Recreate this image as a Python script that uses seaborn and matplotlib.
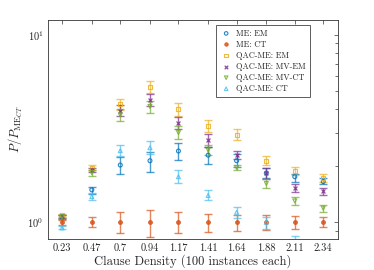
import numpy as np
import pandas as pd
import matplotlib
matplotlib.use("Agg")
import matplotlib.pyplot as plt
import seaborn as sns

# Data
densities = [0.23, 0.47, 0.70, 0.94, 1.17, 1.41, 1.64, 1.88, 2.11, 2.34]
tick_labels = ["0.23", "0.47", "0.7", "0.94", "1.17", "1.41", "1.64", "1.88", "2.11", "2.34"]

series_names = ["ME: EM", "ME: CT", "QAC-ME: EM", "QAC-ME: MV-EM", "QAC-ME: MV-CT", "QAC-ME: CT"]

me_em = [1.07, 1.49, 2.02, 2.13, 2.40, 2.28, 2.13, 1.83, 1.75, 1.65]
me_em_lo = [1.04, 1.42, 1.81, 1.86, 2.14, 2.05, 1.98, 1.72, 1.65, 1.60]
me_em_hi = [1.10, 1.55, 2.22, 2.36, 2.64, 2.53, 2.30, 1.95, 1.82, 1.72]

me_ct = [1.0, 1.0, 1.0, 1.0, 1.0, 1.0, 1.0, 1.0, 1.0, 1.0]
me_ct_lo = [0.97, 0.94, 0.874, 0.83, 0.877, 0.89, 0.90, 0.91, 0.92, 0.94]
me_ct_hi = [1.03, 1.063, 1.13, 1.17, 1.13, 1.11, 1.10, 1.09, 1.08, 1.063]

qac_em = [1.09, 1.96, 4.26, 5.26, 4.01, 3.27, 2.93, 2.13, 1.88, 1.72]
qac_em_lo = [1.07, 1.91, 3.99, 4.87, 3.69, 3.02, 2.74, 2.01, 1.79, 1.65]
qac_em_hi = [1.11, 2.01, 4.53, 5.67, 4.32, 3.52, 3.14, 2.25, 1.98, 1.80]

qac_mvem = [1.08, 1.90, 3.93, 4.50, 3.38, 2.75, 2.29, 1.83, 1.52, 1.46]
qac_mvem_lo = [1.06, 1.85, 3.69, 4.17, 3.13, 2.53, 2.17, 1.71, 1.45, 1.39]
qac_mvem_hi = [1.10, 1.95, 4.21, 4.86, 3.64, 2.96, 2.41, 1.96, 1.60, 1.53]

qac_mvct = [1.07, 1.84, 3.74, 4.15, 3.01, 2.43, 1.96, 1.61, 1.30, 1.19]
qac_mvct_lo = [1.05, 1.77, 3.48, 3.83, 2.77, 2.29, 1.89, 1.53, 1.24, 1.14]
qac_mvct_hi = [1.09, 1.90, 4.01, 4.46, 3.27, 2.58, 2.03, 1.70, 1.36, 1.24]

qac_ct = [0.933, 1.37, 2.41, 2.50, 1.75, 1.39, 1.13, 1.00, 0.79, 0.70]
qac_ct_lo = [0.92, 1.31, 2.26, 2.30, 1.62, 1.31, 1.06, 0.92, 0.74, 0.65]
qac_ct_hi = [0.95, 1.43, 2.59, 2.72, 1.89, 1.48, 1.21, 1.07, 0.84, 0.75]

values = [me_em, me_ct, qac_em, qac_mvem, qac_mvct, qac_ct]
lows = [me_em_lo, me_ct_lo, qac_em_lo, qac_mvem_lo, qac_mvct_lo, qac_ct_lo]
highs = [me_em_hi, me_ct_hi, qac_em_hi, qac_mvem_hi, qac_mvct_hi, qac_ct_hi]

colors = ["#0072BD", "#D95319", "#EDB120", "#7E2F8E", "#77AC30", "#4DBEEE"]
markers = ["o", "o", "s", "x", "v", "^"]
filled = [False, True, False, True, False, False]

sns.set_theme(style="white")
plt.rcParams["font.family"] = ["cmr10", "DejaVu Serif"]
plt.rcParams["mathtext.fontset"] = "cm"
plt.rcParams["axes.formatter.use_mathtext"] = True

fig = plt.figure(figsize=(3.74, 2.70), dpi=100)
ax = fig.add_axes([0.128, 0.115, 0.776, 0.811])

rows = []
for name, v in zip(series_names, values):
    for d, y in zip(densities, v):
        rows.append({"density": d, "ratio": y, "series": name})
df = pd.DataFrame(rows)

# error bars first, markers on top
for i, name in enumerate(series_names):
    v = np.array(values[i])
    lo = v - np.array(lows[i])
    hi = np.array(highs[i]) - v
    ax.errorbar(densities, v, yerr=[lo, hi], fmt="none", ecolor=colors[i],
                elinewidth=1.0, capsize=2.8, capthick=1.0, alpha=0.7, zorder=2)

for i, name in enumerate(series_names):
    sub = df[df["series"] == name]
    if markers[i] == "x":
        kw = dict(color=colors[i], linewidth=0.9)
    elif filled[i]:
        kw = dict(color=colors[i], edgecolor=colors[i], linewidth=0.6)
    else:
        kw = dict(facecolor="none", edgecolor=colors[i], linewidth=0.8)
    sns.scatterplot(data=sub, x="density", y="ratio", marker=markers[i], s=8,
                    ax=ax, label=name, zorder=3, alpha=0.85, **kw)

ax.set_yscale("log")
ax.set_ylim(0.815, 12.0)
ax.set_xlim(0.115, 2.46)
ax.set_xticks(densities)
ax.set_xticklabels(tick_labels)
ax.set_yticks([1, 10])
ax.set_yticklabels([r"$10^0$", r"$10^1$"])
ax.tick_params(axis="both", which="both", direction="in", top=True, right=True,
               labelsize=7.5, color="#333333")
ax.tick_params(axis="both", which="major", length=3, width=0.5, pad=3)
ax.tick_params(axis="y", which="minor", length=2, width=0.5)
ax.yaxis.set_minor_formatter(matplotlib.ticker.NullFormatter())
for sp in ax.spines.values():
    sp.set_linewidth(0.6)
    sp.set_color("#333333")

ax.set_xlabel("Clause Density (100 instances each)", fontsize=9, labelpad=1)
ax.set_ylabel(r"$P/P_{\mathrm{ME}_{CT}}$", fontsize=9, labelpad=2)

leg = ax.legend(loc="upper right", bbox_to_anchor=(0.903, 0.977), borderaxespad=0,
                fontsize=6.0, frameon=True, fancybox=False, edgecolor="#333333",
                handletextpad=0.5, borderpad=0.5, labelspacing=0.32,
                handlelength=1.4, markerscale=0.9)
leg.get_frame().set_linewidth(0.7)

fig.savefig("out.png", dpi=100)
